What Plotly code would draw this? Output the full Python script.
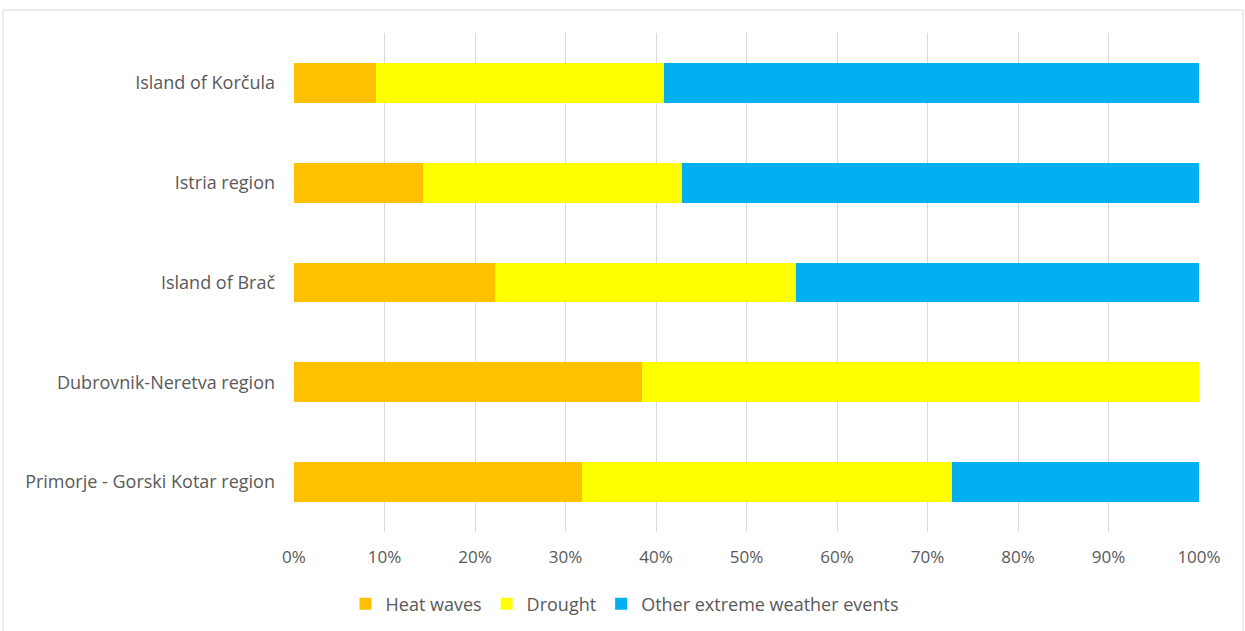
import plotly.graph_objects as go

# Regions, listed bottom to top as they appear on the axis
regions = [
    "Primorje - Gorski Kotar region",
    "Dubrovnik-Neretva region",
    "Island of Brač",
    "Istria region",
    "Island of Korčula",
]

# Share of responses per type of event (%)
heat_waves = [31.8, 38.5, 22.2, 14.3, 9.1]
drought = [40.9, 61.5, 33.3, 28.6, 31.8]
other_events = [27.3, 0.0, 44.5, 57.1, 59.1]

series = [
    ("Heat waves", heat_waves, "#FFC000"),
    ("Drought", drought, "#FFFF00"),
    ("Other extreme weather events", other_events, "#00B0F0"),
]

tick_vals = [0, 10, 20, 30, 40, 50, 60, 70, 80, 90, 100]
tick_text = [f"{v}%" for v in tick_vals]

W, H = 1245, 631
L, R, T, B = 294, 46, 33, 99

fig = go.Figure()
for name, vals, color in series:
    fig.add_trace(go.Bar(
        y=regions, x=vals, name=name, orientation="h",
        marker=dict(color=color, line=dict(width=0)),
    ))

pw = W - L - R
ph = H - T - B
fig.update_layout(
    width=W, height=H,
    margin=dict(l=L, r=R, t=T, b=B, autoexpand=False),
    barmode="stack",
    bargap=0.6,
    paper_bgcolor="white",
    plot_bgcolor="white",
    font=dict(family="Open Sans, Noto Sans, sans-serif", size=18, color="#595959"),
    xaxis=dict(
        range=[0, 100], tickvals=tick_vals, ticktext=tick_text,
        showgrid=True, gridcolor="#D9D9D9", gridwidth=1,
        zeroline=False, showline=False, ticks="",
        tickfont=dict(size=17, color="#595959"),
        ticklabelstandoff=13,
    ),
    yaxis=dict(
        categoryorder="array", categoryarray=regions,
        showgrid=False, zeroline=False, showline=False, ticks="",
        tickfont=dict(size=18, color="#595959"),
        ticklabelstandoff=18,
    ),
    legend=dict(
        orientation="h", x=(624.5 - L) / pw, xanchor="center",
        y=-(604 - (T + ph)) / ph, yanchor="middle",
        font=dict(size=18, color="#595959"),
        traceorder="normal",
        itemwidth=30,
    ),
    shapes=[dict(
        type="rect", xref="paper", yref="paper",
        x0=(3 - L) / pw, x1=(1243 - L) / pw,
        y0=-(H + 10 - T - ph) / ph, y1=(T + ph - 10) / ph,
        line=dict(color="#D9D9D9", width=1), fillcolor="rgba(0,0,0,0)",
        layer="below",
    )],
)

fig.write_html("out.html")
